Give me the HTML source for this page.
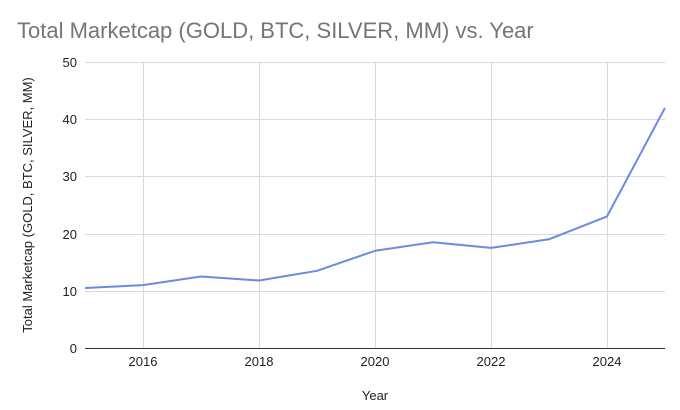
<!DOCTYPE html>
<html><head><style>body{margin:0;background:#fff}svg{display:block}</style></head><body>
<svg width="680" height="410" xmlns="http://www.w3.org/2000/svg" font-family="Liberation Sans, sans-serif">
<rect width="680" height="410" fill="#fff"/>
<text x="17" y="38" font-size="22" fill="#757575">Total Marketcap (GOLD, BTC, SILVER, MM) vs. Year</text>
<g stroke="#d9d9d9" stroke-width="1">
<line x1="85" y1="62.5" x2="665" y2="62.5"/>
<line x1="85" y1="119.5" x2="665" y2="119.5"/>
<line x1="85" y1="176.5" x2="665" y2="176.5"/>
<line x1="85" y1="234.5" x2="665" y2="234.5"/>
<line x1="85" y1="291.5" x2="665" y2="291.5"/>
<line x1="143.5" y1="62" x2="143.5" y2="348"/>
<line x1="259.5" y1="62" x2="259.5" y2="348"/>
<line x1="375.5" y1="62" x2="375.5" y2="348"/>
<line x1="491.5" y1="62" x2="491.5" y2="348"/>
<line x1="607.5" y1="62" x2="607.5" y2="348"/>
</g>
<line x1="85" y1="348.5" x2="665" y2="348.5" stroke="#333" stroke-width="1"/>
<g font-size="13" fill="#222" text-anchor="end">
<text x="77" y="67">50</text><text x="77" y="124">40</text><text x="77" y="181">30</text>
<text x="77" y="239">20</text><text x="77" y="296">10</text><text x="77" y="353">0</text>
</g>
<g font-size="13" fill="#222" text-anchor="middle">
<text x="143" y="366">2016</text><text x="259" y="366">2018</text><text x="375" y="366">2020</text>
<text x="491" y="366">2022</text><text x="607" y="366">2024</text>
<text x="375" y="400">Year</text>
</g>
<text transform="translate(32,205) rotate(-90)" font-size="13" fill="#222" text-anchor="middle">Total Marketcap (GOLD, BTC, SILVER, MM)</text>
<polyline fill="none" stroke="#6a8ae6" stroke-width="2" stroke-linejoin="round"
points="85,288 143,285.1 201,276.5 259,280.5 317,270.8 375,250.8 433,242.2 491,247.9 549,239.3 607,216.4 665,107.8"/>
</svg>
</body></html>
